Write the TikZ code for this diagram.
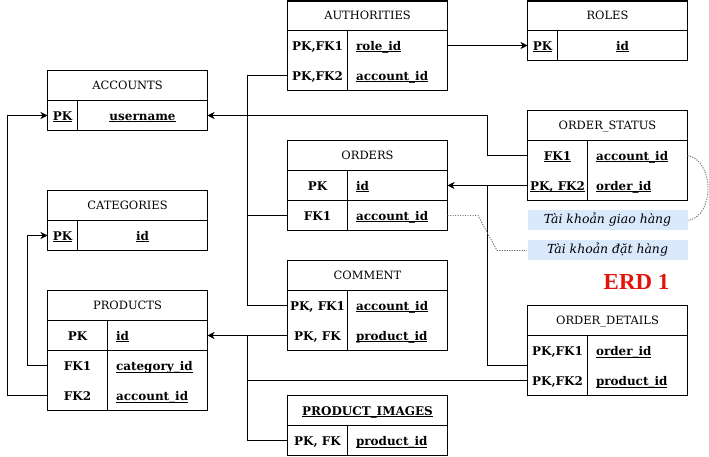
\documentclass[tikz,border=0pt]{standalone}
\usepackage{fontspec}
\setmainfont{DejaVu Serif}
\newfontfamily\erdfont{Liberation Serif}
\usetikzlibrary{arrows.meta,calc}
\definecolor{lblue}{HTML}{DAE8FC}
\definecolor{erdred}{HTML}{E3120B}
\definecolor{dotgray}{HTML}{707070}
\newcommand\uln[1]{\setbox0\hbox{#1}\rlap{\rule[-1.8bp]{\wd0}{0.8bp}}\box0}
\begin{document}
\begin{tikzpicture}[x=1bp,y=-1bp,line width=1.1bp,
  hdr/.style={draw,minimum width=160bp,minimum height=30bp,inner sep=0pt,outer sep=0pt,
    font=\fontsize{11.5}{13}\selectfont,text height=8.4bp,text depth=0pt},
  rowb/.style={minimum width=160bp,minimum height=30bp,inner sep=0pt,outer sep=0pt},
  keyt/.style={font=\fontsize{12}{14}\selectfont\bfseries,inner sep=0pt,text height=9bp,text depth=0pt},
  fldt/.style={keyt,anchor=west},
  fk/.style={-{Stealth[length=7bp,width=7bp,inset=2bp]}},
  note/.style={draw=dotgray,line width=0.9bp,dash pattern=on 1.2bp off 1.3bp},
  lbl/.style={fill=lblue,minimum width=160bp,minimum height=20bp,inner sep=0pt,
    font=\fontsize{12.5}{14}\selectfont\itshape,text height=8.5bp,text depth=2.5bp}
]
\useasboundingbox (0,0) rectangle (709,457);

% ACCOUNTS
\node[hdr] (acc) at (127.5,85.5) {ACCOUNTS};
\node[rowb,draw] (acc1) at (127.5,115.5) {};
\draw (77.5,100.5) -- (77.5,130.5);
\node[keyt] (acck1) at (62.5,116) {\uln{PK}};
\node[keyt] (accf1) at (142.5,116) {\uln{username}};

% CATEGORIES
\node[hdr] (cat) at (127.5,205.5) {CATEGORIES};
\node[rowb,draw] (cat1) at (127.5,235.5) {};
\draw (77.5,220.5) -- (77.5,250.5);
\node[keyt] (catk1) at (62.5,236) {\uln{PK}};
\node[keyt] (catf1) at (142.5,236) {\uln{id}};

% PRODUCTS
\node[hdr] (prod) at (127.5,305.5) {PRODUCTS};
\node[rowb,draw] (prod1) at (127.5,335.5) {};
\node[rowb] (prod2) at (127.5,365.5) {};
\node[rowb] (prod3) at (127.5,395.5) {};
\draw (prod2.north west) rectangle (prod3.south east);
\draw (107.5,320.5) -- (107.5,410.5);
\node[keyt] (prodk1) at (77.5,336) {PK};
\node[keyt] (prodk2) at (77.5,366) {FK1};
\node[keyt] (prodk3) at (77.5,396) {FK2};
\node[fldt] (prodf1) at (115.5,336) {\uln{id}};
\node[fldt] (prodf2) at (115.5,366) {\uln{category\_id}};
\node[fldt] (prodf3) at (115.5,396) {\uln{account\_id}};

% AUTHORITIES
\node[hdr,minimum height=29.5bp] (auth) at (367.5,15.75) {AUTHORITIES};
\node[rowb] (auth1) at (367.5,45.5) {};
\node[rowb] (auth2) at (367.5,75.5) {};
\draw (auth1.north west) rectangle (auth2.south east);
\draw (347.5,30.5) -- (347.5,90.5);
\node[keyt] (authk1) at (317.5,46) {PK,FK1};
\node[keyt] (authk2) at (317.5,76) {PK,FK2};
\node[fldt] (authf1) at (355.5,46) {\uln{role\_id}};
\node[fldt] (authf2) at (355.5,76) {\uln{account\_id}};

% ROLES
\node[hdr,minimum height=29.5bp] (roles) at (607.5,15.75) {ROLES};
\node[rowb,draw] (roles1) at (607.5,45.5) {};
\draw (557.5,30.5) -- (557.5,60.5);
\node[keyt] (rolesk1) at (542.5,46) {\uln{PK}};
\node[keyt] (rolesf1) at (622.5,46) {\uln{id}};

% ORDER_STATUS
\node[hdr] (os) at (607.5,125.5) {ORDER\_STATUS};
\node[rowb] (os1) at (607.5,155.5) {};
\node[rowb] (os2) at (607.5,185.5) {};
\draw (os1.north west) rectangle (os2.south east);
\draw (587.5,140.5) -- (587.5,200.5);
\node[keyt] (osk1) at (557.5,156) {\uln{FK1}};
\node[keyt] (osk2) at (557.5,186) {\uln{PK, FK2}};
\node[fldt] (osf1) at (595.5,156) {\uln{account\_id}};
\node[fldt] (osf2) at (595.5,186) {\uln{order\_id}};

% ORDERS
\node[hdr] (ord) at (367.5,155.5) {ORDERS};
\node[rowb,draw] (ord1) at (367.5,185.5) {};
\node[rowb,draw] (ord2) at (367.5,215.5) {};
\draw (347.5,170.5) -- (347.5,230.5);
\node[keyt] (ordk1) at (317.5,186) {PK};
\node[keyt] (ordk2) at (317.5,216) {FK1};
\node[fldt] (ordf1) at (355.5,186) {\uln{id}};
\node[fldt] (ordf2) at (355.5,216) {\uln{account\_id}};

% COMMENT
\node[hdr] (com) at (367.5,275.5) {COMMENT};
\node[rowb] (com1) at (367.5,305.5) {};
\node[rowb] (com2) at (367.5,335.5) {};
\draw (com1.north west) rectangle (com2.south east);
\draw (347.5,290.5) -- (347.5,350.5);
\node[keyt] (comk1) at (317.5,306) {PK, FK1};
\node[keyt] (comk2) at (317.5,336) {PK, FK};
\node[fldt] (comf1) at (355.5,306) {\uln{account\_id}};
\node[fldt] (comf2) at (355.5,336) {\uln{product\_id}};

% PRODUCT_IMAGES
\node[hdr,font=\fontsize{12}{14}\selectfont\bfseries,text height=9bp] (pi) at (367.5,410.5) {\uln{PRODUCT\_IMAGES}};
\node[rowb,draw] (pi1) at (367.5,440.5) {};
\draw (347.5,425.5) -- (347.5,455.5);
\node[keyt] (pik1) at (317.5,441) {PK, FK};
\node[fldt] (pif1) at (355.5,441) {\uln{product\_id}};

% ORDER_DETAILS
\node[hdr] (od) at (607.5,320.5) {ORDER\_DETAILS};
\node[rowb] (od1) at (607.5,350.5) {};
\node[rowb] (od2) at (607.5,380.5) {};
\draw (od1.north west) rectangle (od2.south east);
\draw (587.5,335.5) -- (587.5,395.5);
\node[keyt] (odk1) at (557.5,351) {PK,FK1};
\node[keyt] (odk2) at (557.5,381) {PK,FK2};
\node[fldt] (odf1) at (595.5,351) {\uln{order\_id}};
\node[fldt] (odf2) at (595.5,381) {\uln{product\_id}};

% labels
\node[lbl] (lab1) at (607.5,220.5) {Tài khoản giao hàng};
\node[lbl] (lab2) at (607.5,250.5) {Tài khoản đặt hàng};
\node[font=\erdfont\bfseries\fontsize{23}{25}\selectfont,text=erdred,inner sep=0pt] (erd) at (636.5,281.5) {ERD 1};

% connectors
\draw[fk] (auth1.east) -- (roles1.west);
\draw[fk] (os1.west) -- ++(-40,0) |- (acc1.east);
\draw (auth2.west) -- ++(-40,0) |- (com1.west);
\draw (ord2.west) -- ++(-40,0);
\draw[fk] (prod3.west) -- ++(-40,0) |- (acc1.west);
\draw[fk] (prod2.west) -- ++(-20,0) |- (cat1.west);
\draw[fk] (com2.west) -- (prod1.east);
\draw (pi1.west) -- ++(-40,0) |- (com2.west);
\draw (od2.west) -- ++(-280,0);
\draw[fk] (os2.west) -- (ord1.east);
\draw ($(os2.west)+(-40,0)$) |- (od1.south west);

% notes
\draw[note] (ord2.east) -- ++(30.5,0) -- (497,250.5) -- (lab2.west);
\draw[note] (os1.east) .. controls ($(os1.east)+(27,5)$) and ($(lab1.east)+(27,-5)$) .. (lab1.east);
\end{tikzpicture}
\end{document}
